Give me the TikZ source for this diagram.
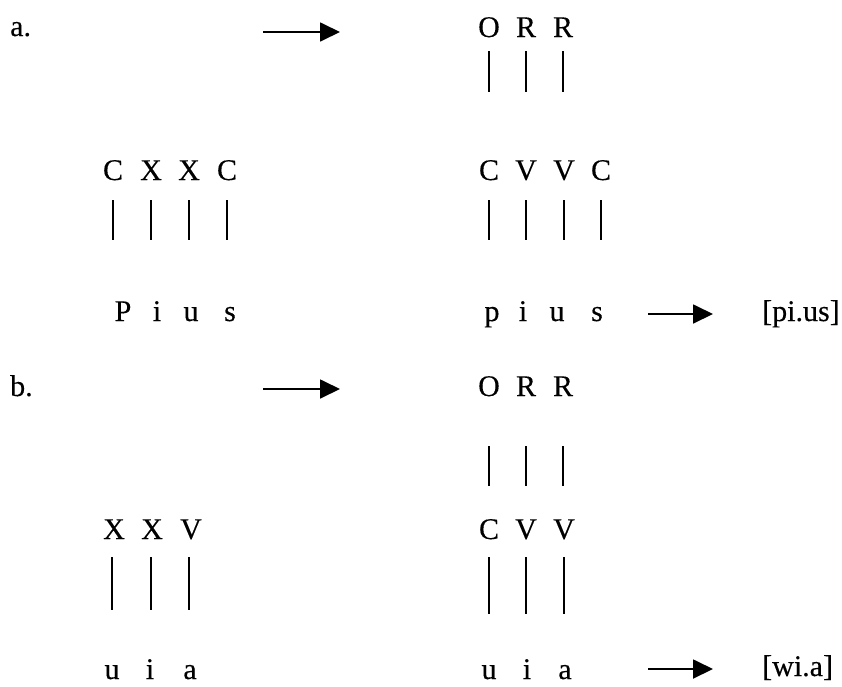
\documentclass[tikz,border=0pt]{standalone}
\usepackage{fontspec}
\setmainfont{Liberation Serif}
\newfontfamily\scanfont{Liberation Serif}[FakeBold=0.25]
\usetikzlibrary{arrows.meta}
\tikzset{
  lab/.style={font=\scanfont\fontsize{30}{34}\selectfont, inner sep=0pt, anchor=base},
  tag/.style={font=\scanfont\fontsize{30}{34}\selectfont, inner sep=0pt, anchor=base west},
  bar/.style={line width=1.8pt},
  derive/.style={line width=1.8pt, -{Triangle[length=20pt,width=19pt]}}
}
\begin{document}
\begin{tikzpicture}[x=1pt,y=-1pt]
\useasboundingbox (0,0) rectangle (842,686);
% ---------- a ----------
\node[tag] (la) at (10,36) {a.};
\coordinate (aas) at (263,32); \coordinate (aae) at (340,32);
\draw[derive] (aas) -- (aae);
\foreach \x/\t [count=\i] in {489/O,526/R,563/R} {
  \node[lab] (aO\i) at (\x,37) {\t};
  \coordinate (aOt\i) at (\x,51); \coordinate (aOb\i) at (\x,92);
  \draw[bar] (aOt\i) -- (aOb\i);
}
\foreach \x/\t [count=\i] in {113/C,151/X,189/X,227/C} {
  \node[lab] (aL\i) at (\x,180) {\t};
  \coordinate (aLt\i) at (\x,200); \coordinate (aLb\i) at (\x,240);
  \draw[bar] (aLt\i) -- (aLb\i);
}
\foreach \x/\t [count=\i] in {489/C,526/V,564/V,601/C} {
  \node[lab] (aR\i) at (\x,180) {\t};
  \coordinate (aRt\i) at (\x,200); \coordinate (aRb\i) at (\x,240);
  \draw[bar] (aRt\i) -- (aRb\i);
}
\foreach \x/\t [count=\i] in {123/P,157/i,191/u,230/s} {
  \node[lab] (aP\i) at (\x,321) {\t};
}
\foreach \x/\t [count=\i] in {492/p,523/i,557/u,597/s} {
  \node[lab] (ap\i) at (\x,321) {\t};
}
\coordinate (ars) at (648,314); \coordinate (are) at (713,314);
\draw[derive] (ars) -- (are);
\node[tag] (aout) at (762,321) {[pi.us]};
% ---------- b ----------
\node[tag] (lb) at (10,396) {b.};
\coordinate (bas) at (263,389); \coordinate (bae) at (340,389);
\draw[derive] (bas) -- (bae);
\foreach \x/\t [count=\i] in {489/O,526/R,563/R} {
  \node[lab] (bO\i) at (\x,396) {\t};
  \coordinate (bOt\i) at (\x,446); \coordinate (bOb\i) at (\x,486);
  \draw[bar] (bOt\i) -- (bOb\i);
}
\foreach \x/\t [count=\i] in {114/X,152/X,191/V} {
  \node[lab] (bL\i) at (\x,539) {\t};
}
\foreach \x [count=\i] in {112,151,189} {
  \coordinate (bLt\i) at (\x,557); \coordinate (bLb\i) at (\x,610);
  \draw[bar] (bLt\i) -- (bLb\i);
}
\foreach \x/\t [count=\i] in {489/C,526/V,564/V} {
  \node[lab] (bR\i) at (\x,539) {\t};
  \coordinate (bRt\i) at (\x,557); \coordinate (bRb\i) at (\x,614);
  \draw[bar] (bRt\i) -- (bRb\i);
}
\foreach \x/\t [count=\i] in {112/u,150/i,190/a} {
  \node[lab] (bu\i) at (\x,679) {\t};
}
\foreach \x/\t [count=\i] in {489/u,527/i,565/a} {
  \node[lab] (bv\i) at (\x,679) {\t};
}
\coordinate (brs) at (648,669); \coordinate (bre) at (713,669);
\draw[derive] (brs) -- (bre);
\node[tag] (bout) at (762,676) {[wi.a]};
\end{tikzpicture}
\end{document}
